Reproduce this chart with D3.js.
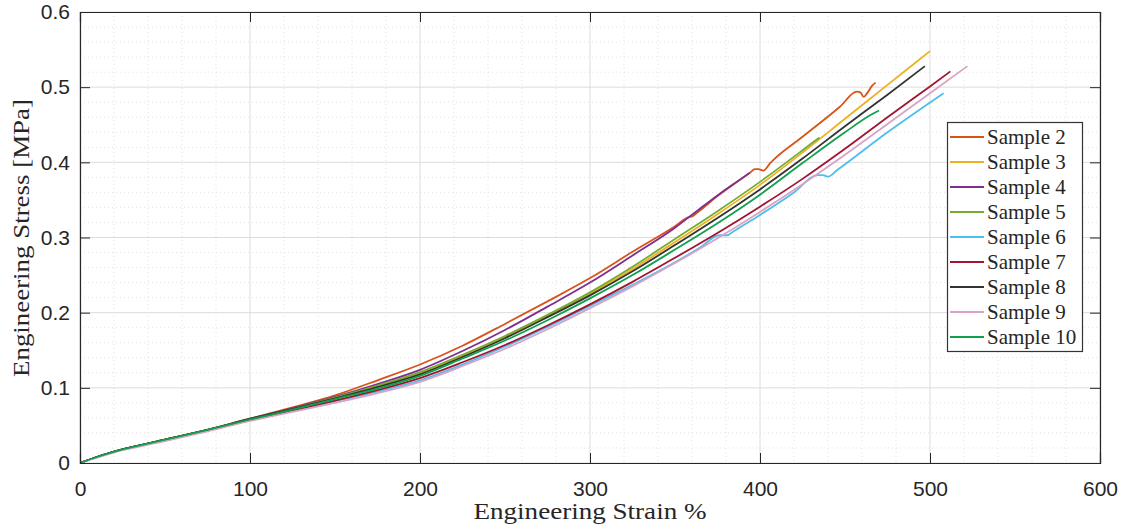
<!DOCTYPE html>
<html>
<head>
<meta charset="utf-8">
<script src="https://cdn.jsdelivr.net/npm/d3@7"></script>
<style>
	body { margin:0; background:#fff; }
	svg { display:block; }
</style>
</head>
<body>
<div id="chart"></div>
<script>
// DATA (strain %, stress MPa)

const xTicks = [0,100,200,300,400,500,600];
const yTicks = [0,0.1,0.2,0.3,0.4,0.5,0.6];
const sampleNames = ['Sample 2','Sample 3','Sample 4','Sample 5','Sample 6','Sample 7','Sample 8','Sample 9','Sample 10'];
const sampleColors = ['#D95319','#EDB120','#7E2F8E','#77AC30','#4DBEEE','#A2142F','#333333','#D9A3C6','#10A04C'];

const sample2 = [[0,0],[10,0.008],[25,0.018],[50,0.031],[75,0.044],[100,0.059],[125,0.074],[150,0.090],[175,0.110],[200,0.131],
	[225,0.156],[250,0.185],[275,0.215],[300,0.246],[325,0.281],[350,0.315],[358,0.327],[360,0.328],[363,0.333],[375,0.355],
	[394,0.386],[397,0.391],[399,0.391],[402,0.389],[406,0.399],[425,0.434],[447,0.474],[457,0.494],[459,0.493],[461,0.487],
	[463,0.492],[466,0.502],[468,0.506]];
const sample3 = [[0,0],[10,0.008],[25,0.018],[50,0.031],[75,0.044],[100,0.058],[125,0.072],[150,0.086],[175,0.102],[200,0.120],
	[225,0.143],[250,0.168],[275,0.196],[300,0.225],[325,0.258],[350,0.294],[375,0.331],[400,0.370],[425,0.413],[450,0.458],
	[475,0.503],[500,0.548]];
const sample4 = [[0,0],[10,0.008],[25,0.018],[50,0.031],[75,0.044],[100,0.058],[125,0.073],[150,0.088],[175,0.105],[200,0.124],
	[225,0.149],[250,0.177],[275,0.208],[300,0.240],[325,0.276],[350,0.313],[365,0.339],[375,0.356],[385,0.372],[394,0.386]];
const sample5 = [[0,0],[10,0.008],[25,0.018],[50,0.031],[75,0.044],[100,0.058],[125,0.072],[150,0.087],[175,0.103],[200,0.121],
	[225,0.144],[250,0.169],[275,0.197],[300,0.227],[325,0.261],[350,0.298],[375,0.335],[400,0.374],[425,0.416],[432,0.428],
	[435,0.433]];
const sample6 = [[0,0],[10,0.008],[25,0.018],[50,0.030],[75,0.043],[100,0.057],[125,0.069],[150,0.082],[175,0.095],[200,0.110],
	[225,0.131],[250,0.155],[275,0.181],[300,0.209],[325,0.237],[350,0.267],[365,0.287],[376,0.303],[381,0.303],[383,0.306],
	[400,0.330],[420,0.360],[434,0.383],[437,0.383],[440,0.381],[445,0.389],[475,0.440],[508,0.492]];
const sample7 = [[0,0],[10,0.008],[25,0.018],[50,0.030],[75,0.043],[100,0.057],[125,0.070],[150,0.083],[175,0.097],[200,0.113],
	[225,0.134],[250,0.157],[275,0.183],[300,0.211],[325,0.241],[350,0.273],[375,0.306],[400,0.341],[425,0.378],[450,0.418],
	[475,0.460],[500,0.501],[512,0.521]];
const sample8 = [[0,0],[10,0.008],[25,0.018],[50,0.031],[75,0.044],[100,0.059],[125,0.072],[150,0.086],[175,0.101],[200,0.118],
	[225,0.141],[250,0.166],[275,0.194],[300,0.223],[325,0.255],[350,0.290],[375,0.326],[400,0.364],[425,0.405],[450,0.448],
	[475,0.490],[497,0.528]];
const sample9 = [[0,0],[10,0.007],[25,0.017],[50,0.029],[75,0.042],[100,0.056],[125,0.068],[150,0.080],[175,0.093],[200,0.108],
	[225,0.129],[250,0.152],[275,0.178],[300,0.206],[325,0.235],[350,0.266],[375,0.299],[400,0.334],[425,0.371],[450,0.410],
	[475,0.451],[500,0.492],[522,0.528]];
const sample10 = [[0,0],[10,0.008],[25,0.018],[50,0.031],[75,0.044],[100,0.058],[125,0.071],[150,0.085],[175,0.099],[200,0.116],
	[225,0.139],[250,0.163],[275,0.190],[300,0.219],[325,0.250],[350,0.284],[375,0.319],[400,0.357],[425,0.399],[450,0.440],
	[465,0.463],[470,0.469]];

const allSamples = [sample2,sample3,sample4,sample5,sample6,sample7,sample8,sample9,sample10];

// configure graph
const width = 1133;
const height = 530;
const plot = {left:80, right:1100, top:12, bottom:463};

const svg = d3.select('#chart').append('svg')
	.attr('width',width).attr('height',height);

const x = d3.scaleLinear().domain([0,600]).range([plot.left,plot.right]);
const y = d3.scaleLinear().domain([0,0.6]).range([plot.bottom,plot.top]);

// minor grid (dotted) then major grid
const minorX = d3.range(0,601,20).filter(v => v%100 != 0);
const minorY = d3.range(0,0.601,0.02).filter(v => Math.abs(v*10-Math.round(v*10))>1e-6);

const grid = svg.append('g').attr('id','grid');
grid.selectAll('line.mx').data(minorX).enter().append('line')
	.attr('x1',d=>x(d)).attr('x2',d=>x(d)).attr('y1',plot.top).attr('y2',plot.bottom)
	.attr('stroke','#e3e3e3').attr('stroke-dasharray','1,3');
grid.selectAll('line.my').data(minorY).enter().append('line')
	.attr('y1',d=>y(d)).attr('y2',d=>y(d)).attr('x1',plot.left).attr('x2',plot.right)
	.attr('stroke','#e3e3e3').attr('stroke-dasharray','1,3');
grid.selectAll('line.gx').data(xTicks).enter().append('line')
	.attr('x1',d=>x(d)).attr('x2',d=>x(d)).attr('y1',plot.top).attr('y2',plot.bottom)
	.attr('stroke','#dcdcdc');
grid.selectAll('line.gy').data(yTicks).enter().append('line')
	.attr('y1',d=>y(d)).attr('y2',d=>y(d)).attr('x1',plot.left).attr('x2',plot.right)
	.attr('stroke','#dcdcdc');

// curves
svg.append('clipPath').attr('id','clip').append('rect')
	.attr('x',plot.left).attr('y',plot.top)
	.attr('width',plot.right-plot.left).attr('height',plot.bottom-plot.top);

const line = d3.line().x(d=>x(d[0])).y(d=>y(d[1])).curve(d3.curveMonotoneX);
svg.append('g').attr('clip-path','url(#clip)')
	.selectAll('path').data(allSamples).enter().append('path')
	.attr('d',line).attr('fill','none')
	.attr('stroke',(d,i)=>sampleColors[i]).attr('stroke-width',1.8)
	.attr('stroke-linejoin','round');

// axes (ticks inside, MATLAB style box)
const tickFont = '"Liberation Sans", Arial, sans-serif';
const xAxis = d3.axisBottom(x).tickValues(xTicks).tickSize(-10).tickPadding(18).tickFormat(d3.format('d'));
const yAxis = d3.axisLeft(y).tickValues(yTicks).tickSize(-10).tickPadding(10).tickFormat(d=> d==0 ? '0' : d3.format('.1f')(d));
const xTop = d3.axisTop(x).tickValues(xTicks).tickSize(-10).tickFormat('');
const yRight = d3.axisRight(y).tickValues(yTicks).tickSize(-10).tickFormat('');

function styleAxis(g){
	g.select('.domain').attr('stroke','#262626').attr('stroke-width',1.2);
	g.selectAll('.tick line').attr('stroke','#262626');
	g.selectAll('.tick text').attr('fill','#262626').style('font-family',tickFont).style('font-size','21px');
}
svg.append('g').attr('transform','translate(0,'+plot.bottom+')').call(xAxis).call(styleAxis);
svg.append('g').attr('transform','translate('+plot.left+',0)').call(yAxis).call(styleAxis);
svg.append('g').attr('transform','translate(0,'+plot.top+')').call(xTop).call(styleAxis);
svg.append('g').attr('transform','translate('+plot.right+',0)').call(yRight).call(styleAxis);

// axis titles
const serif = '"Liberation Serif", "Times New Roman", serif';
svg.append('text').attr('x',(plot.left+plot.right)/2).attr('y',519)
	.attr('text-anchor','middle').style('font-family',serif).style('font-size','24px')
	.attr('fill','#262626').attr('textLength',233).attr('lengthAdjust','spacingAndGlyphs')
	.text('Engineering Strain %');
svg.append('text').attr('transform','translate(29,238) rotate(-90)')
	.attr('text-anchor','middle').style('font-family',serif).style('font-size','24px')
	.attr('fill','#262626').attr('textLength',278).attr('lengthAdjust','spacingAndGlyphs')
	.text('Engineering Stress [MPa]');

// legend
const legend = svg.append('g').attr('id','legend');
legend.append('rect').attr('x',947.5).attr('y',122.5).attr('width',135).attr('height',229)
	.attr('fill','#fff').attr('stroke','#333').attr('stroke-width',1.2);
const entries = legend.selectAll('g.entry').data(sampleNames).enter().append('g')
	.attr('transform',(d,i)=>'translate(0,'+(137+25*i)+')');
entries.append('line').attr('x1',950).attr('x2',984).attr('y1',0).attr('y2',0)
	.attr('stroke',(d,i)=>sampleColors[i]).attr('stroke-width',1.8);
entries.append('text').attr('x',987).attr('y',6.5)
	.style('font-family',serif).style('font-size','21px').attr('fill','#262626')
	.text(d=>d);
</script>
</body>
</html>
